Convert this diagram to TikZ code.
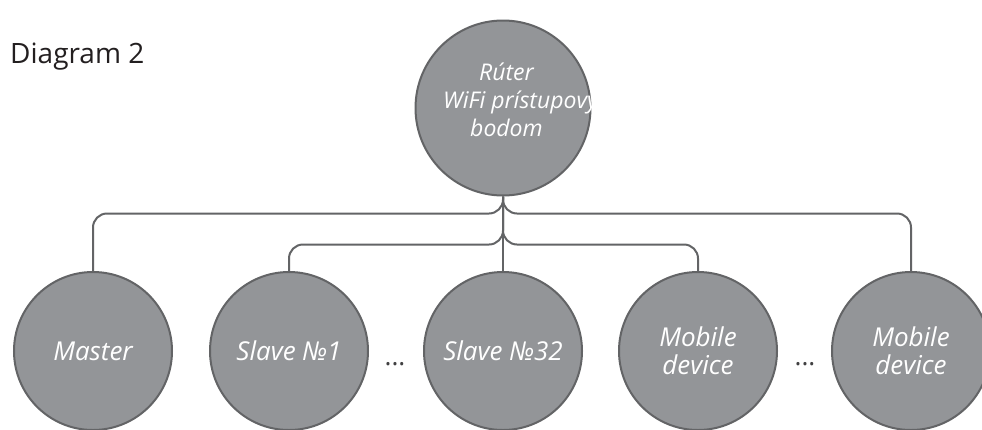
\documentclass[tikz,border=0pt]{standalone}
\usepackage{fontspec}
\setmainfont{Open Sans}
\definecolor{nodefill}{HTML}{939598}
\definecolor{nodeline}{HTML}{636466}
\definecolor{titletext}{HTML}{231F20}
\definecolor{dotcol}{HTML}{414042}
\begin{document}
\begin{tikzpicture}[x=1pt,y=-1pt,
  unit/.style={circle, fill=nodefill, draw=nodeline, line width=2pt, minimum size=158pt, inner sep=0pt, text=white, font=\fontsize{26}{28}\selectfont\itshape, align=center},
  rootunit/.style={unit, minimum size=175pt},
  roottext/.style={anchor=base west, inner sep=0pt, text=white, font=\fontsize{23}{26}\selectfont\itshape},
  link/.style={draw=nodeline, line width=2pt, rounded corners=14pt},
  dots/.style={text=dotcol, font=\fontsize{26}{28}\selectfont, inner sep=0pt},
  title/.style={anchor=base west, inner sep=0pt, text=titletext, font=\fontsize{28}{32}\selectfont}]
\useasboundingbox[fill=white] (0,0) rectangle (982,429);
\node[title] (ttl) at (10,63) {Diagram 2};
\node[rootunit] (root) at (503,108) {};
\node[roottext] (r1) at (479,80) {Rúter};
\node[roottext] (r2) at (443,108) {WiFi prístupovy};
\node[roottext] (r3) at (470,136) {bodom};
\node[unit] (master) at (93,351) {Master};
\node[unit] (slave1) at (289,351) {Slave №1};
\node[unit] (slave32) at (503,351) {Slave №32};
\node[unit] (mob1) at (698,351) {Mobile\\device};
\node[unit] (mob2) at (911,351) {Mobile\\device};
\node[dots] (d1) at (395,364) {...};
\node[dots] (d2) at (805,364) {...};
\draw[link] (root.south) -- ++(0,17) -| (master.north);
\draw[link] (root.south) -- ++(0,48) -| (slave1.north);
\draw[link] (root.south) -- (slave32.north);
\draw[link] (root.south) -- ++(0,48) -| (mob1.north);
\draw[link] (root.south) -- ++(0,17) -| (mob2.north);
\end{tikzpicture}
\end{document}
